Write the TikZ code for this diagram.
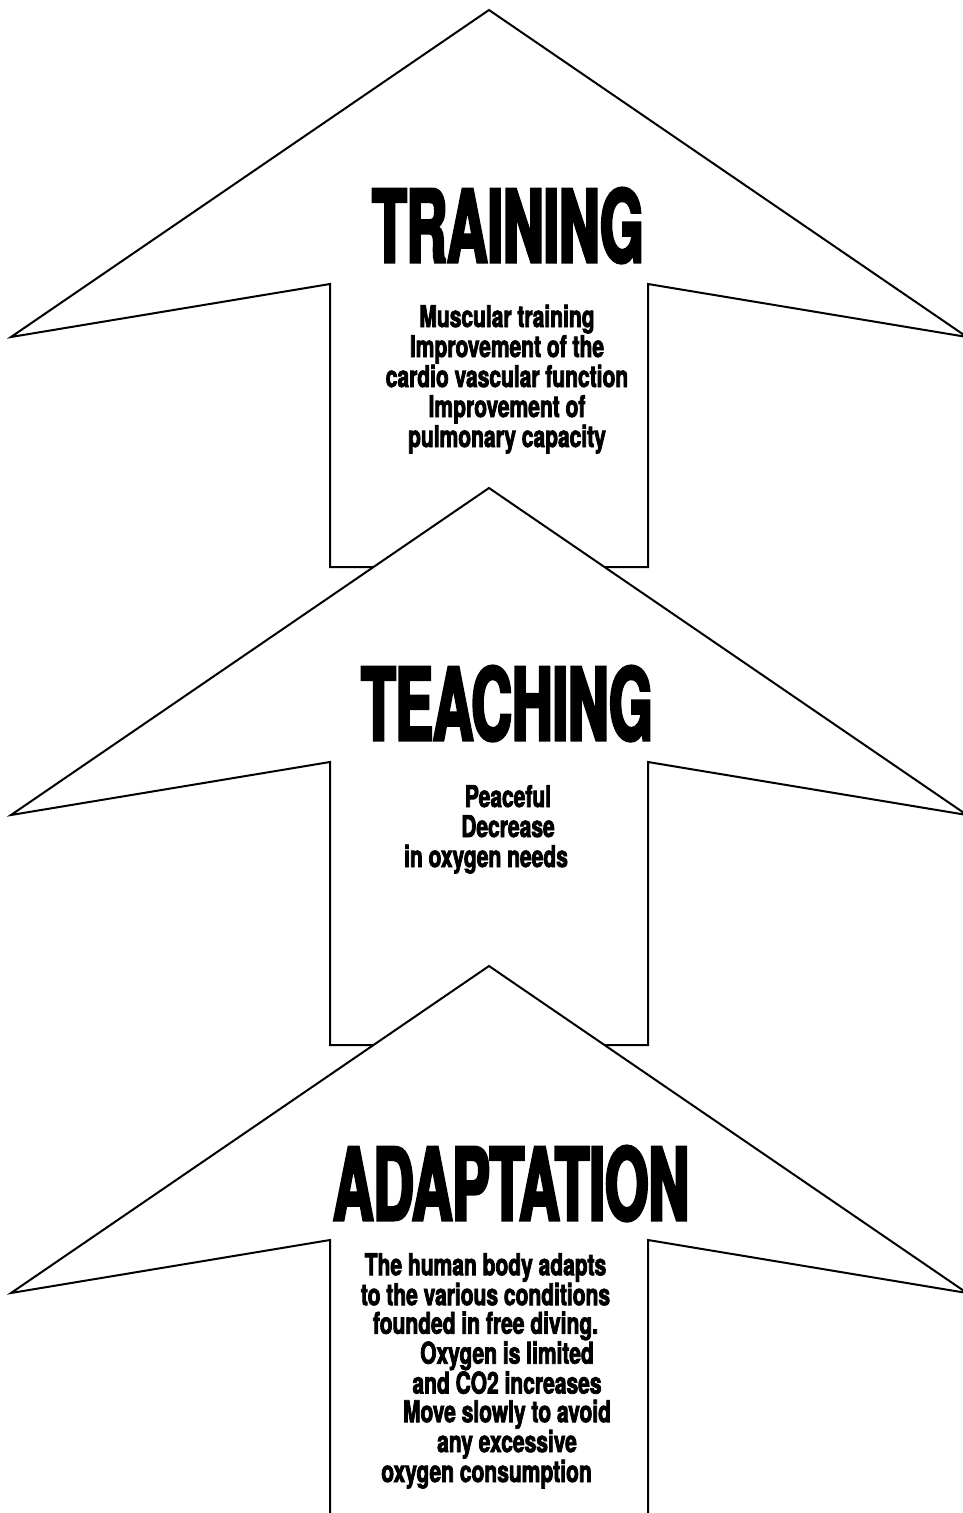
\documentclass[tikz,border=0pt]{standalone}
\usepackage{fontspec}
\newfontfamily\titrefont[FakeStretch=0.56,FakeBold=3]{TeX Gyre Heros}
\newfontfamily\corpsfont[FakeStretch=0.70,FakeBold=2.5]{TeX Gyre Heros}
% decalage d'une ligne vers la gauche
\newcommand\Retrait[1]{\rule{#1}{0pt}}

\begin{document}
\begin{tikzpicture}[x=1pt,y=-1pt,
  fleche/.style={line width=2pt, fill=white, line join=miter},
  titre/.style={anchor=base, inner sep=0pt, font={\titrefont\bfseries\fontsize{100}{100}\selectfont}},
  corps/.style={anchor=base, inner sep=0pt, align=center, font={\corpsfont\bfseries\fontsize{30}{30}\selectfont}}]

%cadre de la page
\useasboundingbox (0,0) rectangle (963,1513);
\clip (0,0) rectangle (963,1513);

    %Décalage vertical entre deux flèches
\def \Pas {478}

% les trois flèches (de haut en bas)
\foreach \n in {0,1,2}{
    \draw[fleche] (489,10+\n*\Pas)--(967,337+\n*\Pas)--(648,284+\n*\Pas)--(648,567+\n*\Pas)
        --(330,567+\n*\Pas)--(330,284+\n*\Pas)--(11,337+\n*\Pas)--cycle;
}

% textes (ancre base = ligne de base de la derniere ligne)
\node[titre] (training) at (508,262) {TRAINING};
\node[corps] (trainingtxt) at (507,447) {Muscular training\\Improvement of the\\cardio vascular function\\Improvement of\\pulmonary capacity};

\node[titre] (teaching) at (507,740) {TEACHING};
\node[corps] (teachingtxt) at (508,867) {Peaceful\\Decrease\\in oxygen needs\Retrait{44pt}};

\node[titre] (adaptation) at (511,1220) {ADAPTATION};
\node[corps, font={\corpsfont\bfseries\fontsize{30}{28.6}\selectfont}] (adaptationtxt) at (507,1482)
    {The human body adapts\Retrait{43pt}\\to the various conditions\Retrait{43pt}\\founded in free diving.\Retrait{43pt}\\Oxygen is limited\\and CO2 increases\\Move slowly to avoid\\any excessive\\oxygen consumption\Retrait{41pt}};

\end{tikzpicture}
\end{document}
